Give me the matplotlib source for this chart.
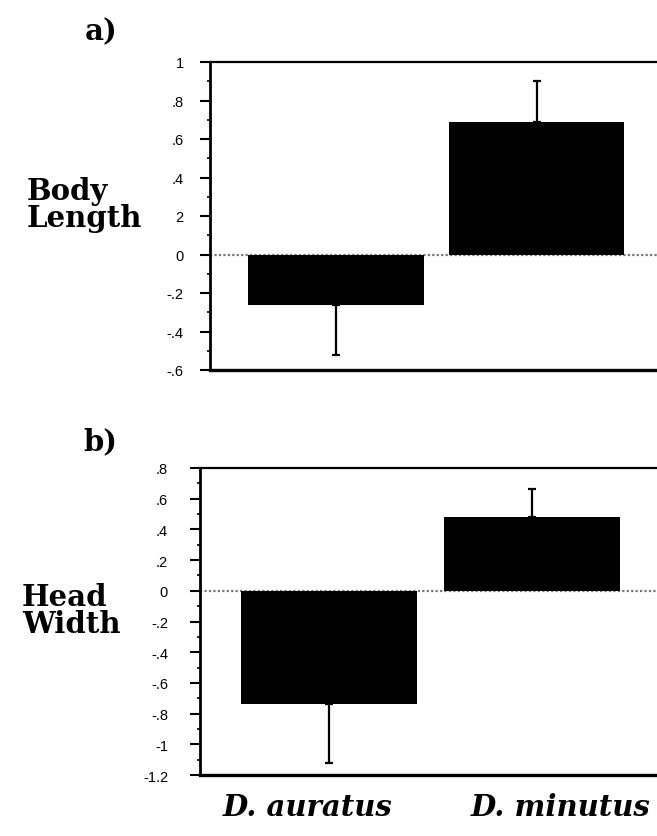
import matplotlib
matplotlib.use('Agg')
from matplotlib import pyplot as plt
from matplotlib import transforms
from matplotlib.ticker import FixedLocator, MultipleLocator

# Data
species = ['D. auratus', 'D. minutus']
body_length = [-0.26, 0.69]
body_length_err = [0.26, 0.21]
head_width = [-0.74, 0.48]
head_width_err = [0.38, 0.18]

ticks_a = [-0.6, -0.4, -0.2, 0, 0.2, 0.4, 0.6, 0.8, 1]
ticklabels_a = ['-.6', '-.4', '-.2', '0', '2', '.4', '.6', '.8', '1']
ticks_b = [-1.2, -1, -0.8, -0.6, -0.4, -0.2, 0, 0.2, 0.4, 0.6, 0.8]
ticklabels_b = ['-1.2', '-1', '-.8', '-.6', '-.4', '-.2', '0', '.2', '.4', '.6', '.8']

W, H = 657, 837
fig = plt.figure(figsize=(W / 100, H / 100), dpi=100)

serif = 'DejaVu Serif'
sans = 'Liberation Sans'


def panel(rect, values, errs, ticks, labels, ylim, xlim, width, pad):
    ax = fig.add_axes(rect)
    x = list(range(len(values)))
    # one-sided error bars pointing away from zero
    lower = [e if v < 0 else 0 for v, e in zip(values, errs)]
    upper = [e if v >= 0 else 0 for v, e in zip(values, errs)]
    ax.bar(x, values, width=width, color='black', zorder=3)
    ax.errorbar(x, values, yerr=[lower, upper], fmt='none', ecolor='black',
                elinewidth=1.6, capsize=3, capthick=1.6, zorder=2)
    ax.axhline(0, color='#777777', linestyle=(0, (1, 1)), linewidth=1.6, zorder=1)
    ax.set_xlim(*xlim)
    ax.set_ylim(*ylim)
    ax.yaxis.set_major_locator(FixedLocator(ticks))
    ax.set_yticklabels(labels, fontfamily=sans, fontsize=10.5)
    ax.yaxis.set_minor_locator(MultipleLocator(0.1))
    ax.tick_params(axis='y', which='major', length=7, width=1.5, pad=pad, direction='out')
    ax.tick_params(axis='y', which='minor', length=2, width=1.2, direction='out')
    ax.set_xticks([])
    ax.spines['right'].set_visible(False)
    ax.spines['left'].set_linewidth(2)
    ax.spines['top'].set_linewidth(1.6)
    ax.spines['bottom'].set_linewidth(2.4)
    return ax


ax_a = panel([210 / W, 1 - 371 / H, 1 - 210 / W, 308 / H],
             body_length, body_length_err, ticks_a, ticklabels_a,
             (-0.6, 1), (-0.627, 1.6), 0.876, 12)
ax_b = panel([200 / W, 1 - 776 / H, 1 - 200 / W, 307 / H],
             head_width, head_width_err, ticks_b, ticklabels_b,
             (-1.2, 0.8), (-0.64, 1.62), 0.87, 16)

fig.text(101 / W, 1 - 32 / H, 'a)', fontfamily=serif, fontweight='bold',
         fontsize=21, ha='center', va='center')
fig.text(100 / W, 1 - 442 / H, 'b)', fontfamily=serif, fontweight='bold',
         fontsize=21, ha='center', va='center')
fig.text(27 / W, 1 - 205 / H, 'Body\nLength', fontfamily=serif, fontweight='bold',
         fontsize=21, ha='left', va='center', linespacing=0.95)
fig.text(22 / W, 1 - 611 / H, 'Head\nWidth', fontfamily=serif, fontweight='bold',
         fontsize=21, ha='left', va='center', linespacing=0.95)

# species names under the lower panel, a little off the bar centres
blend = transforms.blended_transform_factory(ax_b.transData, fig.transFigure)
for xi, name, dx in zip(range(len(species)), species, [-22, 29]):
    shift = transforms.ScaledTranslation(dx / 100, 0, fig.dpi_scale_trans)
    ax_b.text(xi, 1 - 808 / H, name, transform=blend + shift,
              fontfamily=serif, fontweight='bold', fontstyle='italic',
              fontsize=21, ha='center', va='center', clip_on=False)

fig.savefig('out.png', dpi=100)
